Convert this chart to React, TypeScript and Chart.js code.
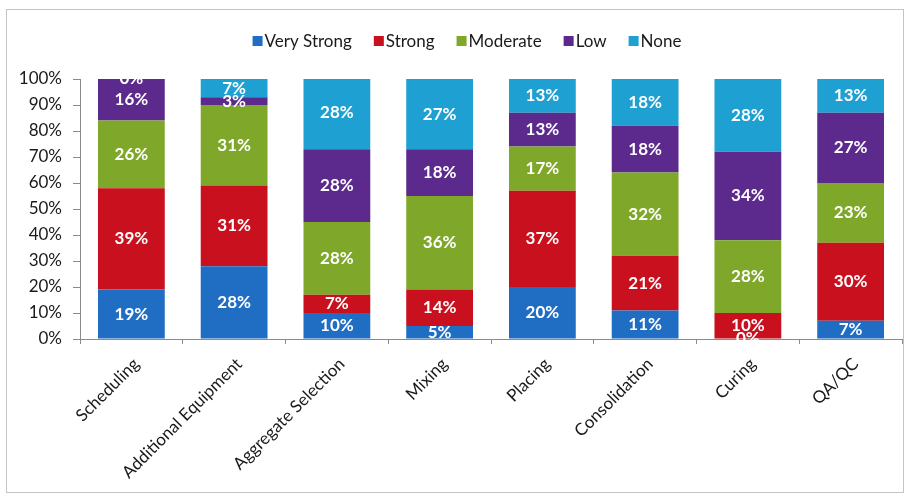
import React, { useEffect, useRef } from "react";
import { Chart, registerables } from "chart.js";

Chart.register(...registerables);

const categories = [
  "Scheduling",
  "Additional Equipment",
  "Aggregate Selection",
  "Mixing",
  "Placing",
  "Consolidation",
  "Curing",
  "QA/QC",
];
const seriesNames = ["Very Strong", "Strong", "Moderate", "Low", "None"];
const veryStrong = [19, 28, 10, 5, 20, 11, 0, 7];
const strong = [39, 31, 7, 14, 37, 21, 10, 30];
const moderate = [26, 31, 28, 36, 17, 32, 28, 23];
const low = [16, 3, 28, 18, 13, 18, 34, 27];
const none = [0, 7, 28, 27, 13, 18, 28, 13];
const seriesColors = ["#1f6ec4", "#c8101e", "#7fa82a", "#5c2a8c", "#1ea0d2"];
const yMin = 0;
const yMax = 100;
const yStep = 10;

const FONT = "Lato, 'Open Sans', sans-serif";

const labelPlugin = {
  id: "segLabels",
  afterDatasetsDraw(chart: any) {
    const ctx = chart.ctx;
    ctx.save();
    ctx.font = `bold 17px ${FONT}`;
    ctx.fillStyle = "#ffffff";
    ctx.textAlign = "center";
    ctx.textBaseline = "middle";
    chart.data.datasets.forEach((ds: any, di: number) => {
      const meta = chart.getDatasetMeta(di);
      meta.data.forEach((el: any, i: number) => {
        const v = ds.data[i];
        const cy = (el.y + el.base) / 2;
        ctx.fillText(`${v}%`, el.x, cy);
      });
    });
    ctx.restore();
  },
};

const legendPlugin = {
  id: "customLegend",
  afterDraw(chart: any) {
    const ctx = chart.ctx;
    ctx.save();
    ctx.font = `17px ${FONT}`;
    ctx.textBaseline = "middle";
    const box = 10;
    const gapBoxText = 2;
    const gapItem = 22;
    const items = chart.data.datasets.map((d: any) => ({
      label: d.label,
      color: d.backgroundColor,
      w: box + gapBoxText + ctx.measureText(d.label).width,
    }));
    const total =
      items.reduce((s: number, it: any) => s + it.w, 0) + gapItem * (items.length - 1);
    const centerX = 467;
    const y = 41;
    let x = centerX - total / 2;
    items.forEach((it: any) => {
      ctx.fillStyle = it.color;
      ctx.fillRect(x, y - box / 2, box, box);
      ctx.fillStyle = "#1a1a1a";
      ctx.fillText(it.label, x + box + gapBoxText, y + 1);
      x += it.w + gapItem;
    });
    ctx.restore();
  },
};

export default function App() {
  const ref = useRef<HTMLCanvasElement | null>(null);
  useEffect(() => {
    if (!ref.current) return;
    const data = [veryStrong, strong, moderate, low, none];
    const chart = new Chart(ref.current, {
      type: "bar",
      data: {
        labels: categories,
        datasets: seriesNames.map((name, i) => ({
          label: name,
          data: data[i],
          backgroundColor: seriesColors[i],
          borderWidth: 0,
          categoryPercentage: 1,
          barPercentage: 0.65,
        })),
      },
      options: {
        animation: false,
        responsive: true,
        maintainAspectRatio: false,
        layout: { padding: { top: 79, right: 5, left: 0, bottom: 0 } },
        plugins: {
          legend: { display: false },
          tooltip: { enabled: false },
        },
        scales: {
          x: {
            stacked: true,
            offset: true,
            border: { color: "#8a8a8a", width: 1 },
            grid: {
              drawOnChartArea: false,
              offset: true,
              tickLength: 5,
              color: "#8a8a8a",
            },
            ticks: {
              minRotation: 45,
              maxRotation: 45,
              color: "#1a1a1a",
              font: { family: FONT, size: 17 },
              padding: 10,
              labelOffset: 5,
            },
            afterFit(scale: any) {
              scale.height = 158;
            },
          },
          y: {
            stacked: true,
            min: yMin,
            max: yMax,
            border: { color: "#8a8a8a", width: 1 },
            grid: {
              drawOnChartArea: false,
              tickLength: 7,
              color: "#8a8a8a",
            },
            ticks: {
              stepSize: yStep,
              color: "#1a1a1a",
              padding: 11,
              font: { family: FONT, size: 17 },
              callback: (v: any) => `${v}%`,
            },
            afterFit(scale: any) {
              scale.width = 80;
            },
          },
        },
      },
      plugins: [labelPlugin, legendPlugin],
    });
    return () => chart.destroy();
  }, []);

  return (
    <div
      style={{
        position: "fixed",
        left: 0,
        top: 0,
        width: 907,
        height: 497,
        background: "#ffffff",
      }}
    >
      <div
        style={{
          position: "absolute",
          left: 6,
          top: 9,
          width: 898,
          height: 484,
          border: "1px solid #c4c4c4",
          boxSizing: "border-box",
        }}
      />
      <canvas ref={ref} style={{ position: "absolute", left: 0, top: 0 }} />
    </div>
  );
}
